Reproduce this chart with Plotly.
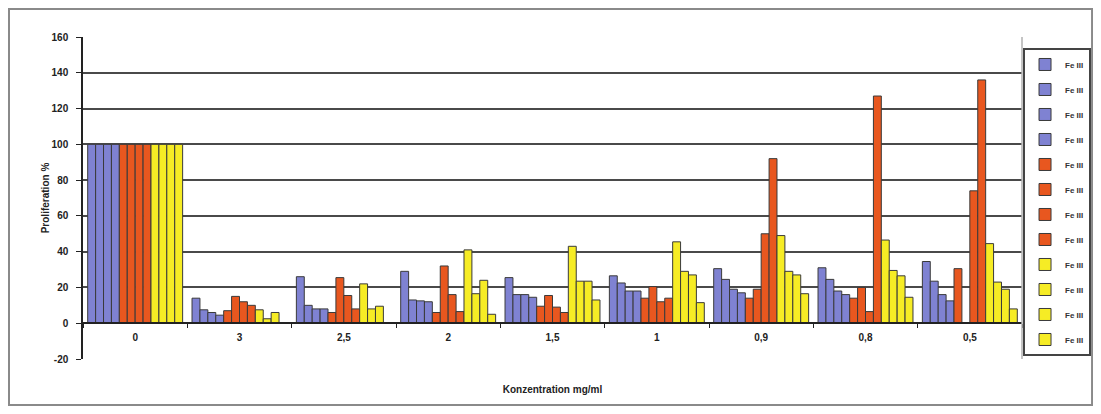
import plotly.graph_objects as go

categories = ["0", "3", "2,5", "2", "1,5", "1", "0,9", "0,8", "0,5"]
series_names = ["Fe III"] * 12

blue1 = [100, 14, 26, 29, 25.5, 26.5, 30.5, 31, 34.5]
blue2 = [100, 7.5, 10, 13, 16, 22.5, 24.5, 24.5, 23.5]
blue3 = [100, 6, 8, 12.5, 16, 18, 19, 18, 16]
blue4 = [100, 4.5, 8, 12, 14.5, 18, 17, 16, 12.5]
orange1 = [100, 7, 6, 6, 9.5, 14, 14, 14, 30.5]
orange2 = [100, 15, 25.5, 32, 15.5, 20.5, 19, 20, 0]
orange3 = [100, 12, 15.5, 16, 9, 12, 50, 6.5, 74]
orange4 = [100, 10, 8, 6.5, 6, 14, 92, 127, 136]
yellow1 = [100, 7.5, 22, 41, 43, 45.5, 49, 46.5, 44.5]
yellow2 = [100, 2.5, 8, 16.5, 23.5, 29, 29, 29.5, 23]
yellow3 = [100, 6, 9.5, 24, 23.5, 27, 27, 26.5, 19]
yellow4 = [100, 0, 0, 5, 13, 11.5, 16.5, 14.5, 8]

y_tickvals = [-20, 0, 20, 40, 60, 80, 100, 120, 140, 160]
y_ticktext = ["-20", "0", "20", "40", "60", "80", "100", "120", "140", "160"]

BLUE = "#7f82d2"
ORANGE = "#e8571f"
YELLOW = "#f6ec25"

all_series = [blue1, blue2, blue3, blue4, orange1, orange2, orange3, orange4,
              yellow1, yellow2, yellow3, yellow4]
colors = [BLUE] * 4 + [ORANGE] * 4 + [YELLOW] * 4

fig = go.Figure()
for i, (vals, col) in enumerate(zip(all_series, colors)):
    fig.add_trace(go.Bar(
        x=categories, y=vals, name=series_names[i],
        legendgroup=f"g{i}",
        marker=dict(color=col, line=dict(color="#3a3a3a", width=1)),
    ))

FONT = "Liberation Sans, Arial, sans-serif"

fig.update_layout(
    width=1085, height=398,
    margin=dict(l=75, r=71, t=29, b=47),
    paper_bgcolor="white", plot_bgcolor="white",
    barmode="group", bargap=0.09, bargroupgap=0,
    font=dict(family=FONT, size=10, color="#222"),
    showlegend=True,
    legend=dict(
        xref="container", yref="container",
        x=0.9355, y=0.8995, xanchor="left", yanchor="top",
        maxheight=340,
        bordercolor="#444", borderwidth=2,
        font=dict(size=8, color="#333", weight="bold"),
        itemwidth=30, tracegroupgap=6,
        traceorder="grouped",
    ),
    xaxis=dict(
        type="category", anchor="free", position=20 / 180,
        showline=True, linecolor="#222", linewidth=1.5,
        ticks="outside", tickson="boundaries", ticklen=4, tickcolor="#222",
        ticklabelstandoff=5,
        showgrid=False,
        tickfont=dict(size=10, weight="bold", color="#222"),
        title=dict(text="Konzentration mg/ml", standoff=43,
                   font=dict(size=10, weight="bold", color="#222")),
        automargin=False,
    ),
    yaxis=dict(
        range=[-20, 160], tickvals=y_tickvals, ticktext=y_ticktext,
        showline=True, linecolor="#222", linewidth=1.5,
        ticks="outside", ticklen=5, tickcolor="#222",
        ticklabelstandoff=6,
        showgrid=True, gridcolor="#4a4a4a", gridwidth=1.5,
        zeroline=False,
        tickfont=dict(size=10, weight="bold", color="#222"),
        title=dict(text="Proliferation %", standoff=0,
                   font=dict(size=10, weight="bold", color="#222")),
        automargin=False,
    ),
    shapes=[
        dict(type="line", xref="paper", yref="paper", x0=1, x1=1, y0=0, y1=1,
             line=dict(color="#b0b0b0", width=1.5)),
        dict(type="rect", xref="paper", yref="paper",
             x0=-0.0788, x1=1.0746, y0=-0.1429, y1=1.087,
             line=dict(color="#8a8a8a", width=2)),
    ],
)

fig.write_html("out.html")
